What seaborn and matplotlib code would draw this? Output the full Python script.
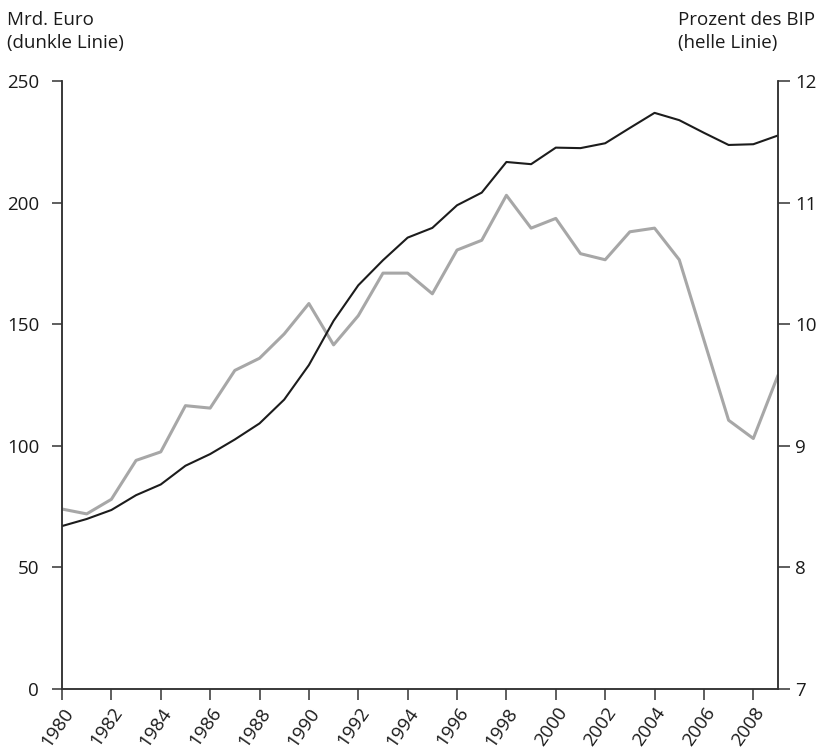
import pandas as pd
import matplotlib
matplotlib.use("Agg")
import matplotlib.pyplot as plt
import seaborn as sns

years = list(range(1980, 2010))

mrd_euro = [67.0, 69.9, 73.6, 79.7, 84.1, 91.8, 96.6, 102.6, 109.2, 119.0,
            133.2, 151.4, 166.0, 176.3, 185.6, 189.6, 198.9, 204.1, 216.7, 215.8,
            222.6, 222.4, 224.4, 230.7, 236.9, 233.9, 228.7, 223.7, 224.0, 227.6]

prozent_bip = [8.48, 8.44, 8.56, 8.88, 8.95, 9.33, 9.31, 9.62, 9.72, 9.92,
               10.17, 9.83, 10.07, 10.42, 10.42, 10.25, 10.61, 10.69, 11.06, 10.79,
               10.87, 10.58, 10.53, 10.76, 10.79, 10.53, 9.87, 9.21, 9.06, 9.58]

left_ticks = [0, 50, 100, 150, 200, 250]
right_ticks = [7, 8, 9, 10, 11, 12]
year_ticks = list(range(1980, 2009, 2))

df = pd.DataFrame({"Jahr": years, "Mrd": mrd_euro, "BIP": prozent_bip})

sns.set_theme(style="white")
plt.rcParams["font.family"] = ["Open Sans", "DejaVu Sans"]

fs = 13.5
txt_col = "#1a1a1a"
spine_col = "#333333"

fig = plt.figure(figsize=(8.21, 7.52), dpi=100)
ax = fig.add_axes([62 / 821, 63 / 752, (778 - 62) / 821, (689 - 81) / 752])
ax2 = ax.twinx()

sns.lineplot(data=df, x="Jahr", y="BIP", ax=ax2, color="#a7a7a7", linewidth=2.2)
sns.lineplot(data=df, x="Jahr", y="Mrd", ax=ax, color="#1c1c1c", linewidth=1.5)

# dunkle Linie nach vorne
ax.set_zorder(ax2.get_zorder() + 1)
ax.patch.set_visible(False)

ax.set_xlim(1980, 2009)
ax.set_ylim(0, 250)
ax2.set_ylim(7, 12)

for a in (ax, ax2):
    for s in a.spines.values():
        s.set_color(spine_col)
        s.set_linewidth(1.1)
    a.spines["top"].set_visible(False)
    a.set_xlabel("")
    a.set_ylabel("")

ax.set_yticks(left_ticks)
ax.set_yticklabels([str(t) for t in left_ticks], fontsize=fs, color=txt_col)
ax2.set_yticks(right_ticks)
ax2.set_yticklabels([str(t) for t in right_ticks], fontsize=fs, color=txt_col)
ax.set_xticks(year_ticks)
ax.set_xticklabels([str(y) for y in year_ticks], fontsize=fs, color=txt_col,
                   rotation=55, ha="right", va="top", rotation_mode="anchor")

ax.tick_params(axis="y", direction="out", length=7.5, width=1.1, color=spine_col,
               pad=9, left=True)
ax2.tick_params(axis="y", direction="out", length=8.5, width=1.1, color=spine_col,
                pad=4, right=True)
ax.tick_params(axis="x", direction="out", length=8, width=1.1, color=spine_col,
               pad=3, bottom=True)

fig.text(7 / 821, 1 - 11 / 752, "Mrd. Euro\n(dunkle Linie)", ha="left", va="top",
         fontsize=fs, color=txt_col, linespacing=1.35)
fig.text(815 / 821, 1 - 11 / 752, "Prozent des BIP\n(helle Linie)", ha="right", va="top",
         fontsize=fs, color=txt_col, linespacing=1.35, multialignment="left")

fig.savefig("out.png", dpi=100)
